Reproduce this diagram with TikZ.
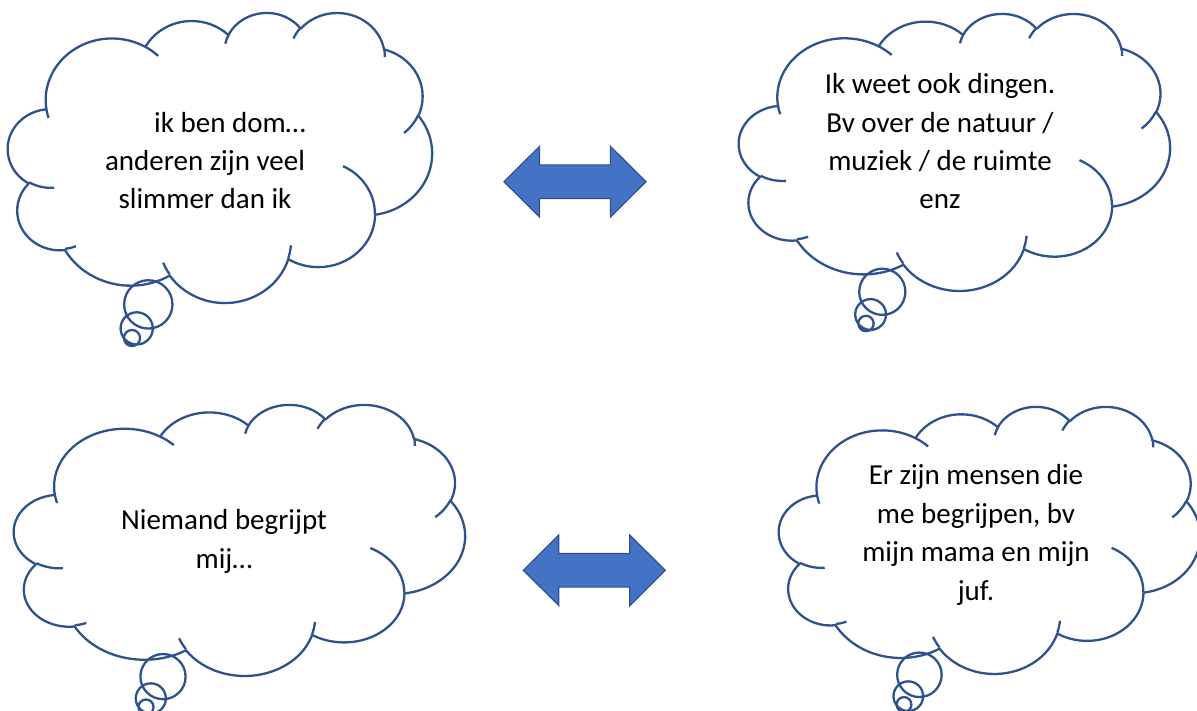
\documentclass[tikz,border=0pt]{standalone}
\usepackage{fontspec}
\setmainfont{Carlito}
\definecolor{cloudblue}{HTML}{2F528F}
\definecolor{arrowblue}{HTML}{4472C4}
\begin{document}
\begin{tikzpicture}[x=1pt, y=-1pt, line join=round,
	cloudline/.style={draw=cloudblue, line width=2.3pt},
	arrowshape/.style={draw=cloudblue, fill=arrowblue, line width=1.2pt, line join=miter},
	thought/.style={font=\fontsize{29}{38.4}\selectfont, align=center, anchor=base, inner sep=0pt}]
	\useasboundingbox (0,0) rectangle (1197,711);
	% one lobe of the cloud: wR, hR (in 1/43.2 of the box), start angle, sweep
	\def\cldarc#1#2#3#4{arc[start angle={atan2(#1*sin(#3),#2*cos(#3))}, delta angle={mod(atan2(#1*sin(#3+#4),#2*cos(#3+#4))-atan2(#1*sin(#3),#2*cos(#3))+720,360)}, x radius=#1/43.2, y radius=#2/43.2]}
	% cloud in the box x0, y0, w, h
	\def\cloud#1#2#3#4{
	\begin{scope}[shift={(#1,#2)}, x=#3pt, y=-#4pt]
	\draw[cloudline] (0.09028,0.33264) \cldarc{6.753}{9.190}{-190.4875}{123.7805}
	\cldarc{5.333}{7.267}{-144.1024}{89.9452} \cldarc{4.365}{5.945}{-145.8079}{99.7230}
	\cldarc{4.857}{6.595}{-130.9861}{117.2417} \cldarc{5.333}{7.273}{-78.7089}{109.0269}
	\cldarc{6.775}{9.220}{-46.2673}{130.2690} \cldarc{5.785}{7.867}{0.6250}{114.0333}
	\cldarc{6.752}{9.215}{22.4516}{115.1726} \cldarc{7.720}{10.543}{66.2426}{75.7110}
	\cldarc{4.360}{5.918}{85.0579}{146.7356} \cldarc{4.345}{5.945}{113.1715}{152.5189} -- cycle;
	\draw[cloudline] (0.10863,0.60595) \cldarc{4.345}{5.945}{86.7420}{26.4295}
	(0.16037,0.80785) \cldarc{4.360}{5.918}{73.6105}{11.4475}
	(0.38144,0.90486) \cldarc{6.752}{9.215}{137.6242}{14.0811}
	(0.66729,0.80442) \cldarc{6.752}{9.215}{6.4533}{15.9984}
	(0.79002,0.53134) \cldarc{5.785}{7.867}{-70.2924}{70.9174}
	(0.96755,0.35542) \cldarc{5.333}{7.273}{30.3180}{27.7515}
	(0.88713,0.12560) \cldarc{4.857}{6.595}{-13.7443}{14.8589}
	(0.67310,0.09148) \cldarc{4.857}{6.595}{-149.1815}{18.1954}
	(0.51252,0.10926) \cldarc{4.365}{5.945}{-163.4943}{17.6864}
	(0.32407,0.12019) \cldarc{6.753}{9.190}{-66.7070}{12.3194}
	(0.09553,0.36549) \cldarc{6.753}{9.190}{157.6544}{11.8582};
	\end{scope}}
	% double arrow centred at x, y
	\def\dblarrow#1#2{
	\draw[arrowshape] (#1-71,#2) -- ++(35.5,-35.3) -- ++(0,18.5) -- ++(71,0) -- ++(0,-18.5)
	-- (#1+71,#2) -- ++(-35.5,35.3) -- ++(0,-18.5) -- ++(-71,0) -- ++(0,18.5) -- cycle;}
	\path
	(132,338) coordinate (S1) (136.7,328.4) coordinate (M1) (148.3,304.4) coordinate (L1)
	(866,323.5) coordinate (S2) (870.6,314.5) coordinate (M2) (882.3,291.8) coordinate (L2)
	(146,707) coordinate (S3) (150.8,698.4) coordinate (M3) (163,676.6) coordinate (L3)
	(904,704.5) coordinate (S4) (908.3,696.2) coordinate (M4) (919.4,674.8) coordinate (L4)
	;
	\cloud{8}{12}{424}{290}
	\cloud{739}{13}{431}{277}
	\cloud{14}{404}{451}{271}
	\cloud{779}{406}{421}{267}
	\foreach \p/\s in {1/290,2/277,3/271,4/267}
	\draw[cloudline] (S\p) circle[radius=\s/36] (M\p) circle[radius=\s/18]
	(L\p) circle[radius=\s/12];
	\dblarrow{575}{181.7}
	\dblarrow{594.3}{570.3}
	% base is the last line of each text
	\node[thought] (dom) at (205,209) {\hspace*{50pt}ik ben dom…\\anderen zijn veel\\slimmer dan ik};
	\node[thought] (dingen) at (940,209) {Ik weet ook dingen.\\Bv over de natuur /\\muziek / de ruimte\\enz};
	\node[thought] (niemand) at (224,568.3) {Niemand begrijpt\\mij…};
	\node[thought] (mensen) at (976,600) {Er zijn mensen die\\me begrijpen, bv\\mijn mama en mijn\\juf.};
\end{tikzpicture}
\end{document}
